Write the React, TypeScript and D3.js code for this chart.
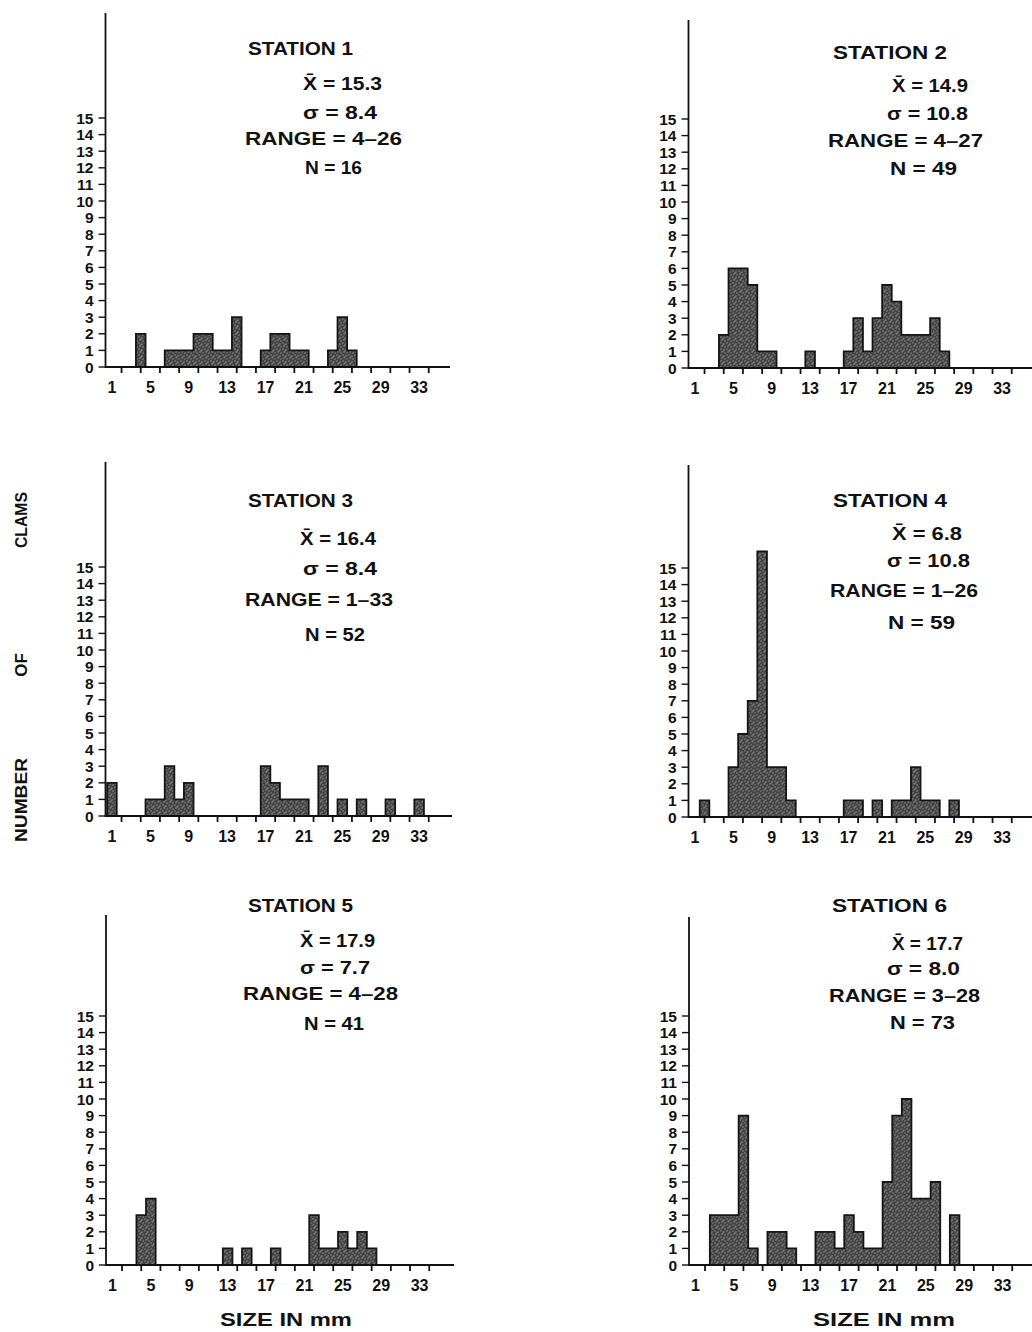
import React from 'react';
import * as d3 from 'd3';

// ---------- DATA ----------
const sizes = [1,2,3,4,5,6,7,8,9,10,11,12,13,14,15,16,17,18,19,20,21,22,23,24,25,26,27,28,29,30,31,32,33,34];
const station1 = [0,0,0,2,0,0,1,1,1,2,2,1,1,3,0,0,1,2,2,1,1,0,0,1,3,1,0,0,0,0,0,0,0,0];
const station2 = [0,0,0,2,6,6,5,1,1,0,0,0,1,0,0,0,1,3,1,3,5,4,2,2,2,3,1,0,0,0,0,0,0,0];
const station3 = [2,0,0,0,1,1,3,1,2,0,0,0,0,0,0,0,3,2,1,1,1,0,3,0,1,0,1,0,0,1,0,0,1,0];
const station4 = [0,1,0,0,3,5,7,16,3,3,1,0,0,0,0,0,1,1,0,1,0,1,1,3,1,1,0,1,0,0,0,0,0,0];
const station5 = [0,0,0,3,4,0,0,0,0,0,0,0,1,0,1,0,0,1,0,0,0,3,1,1,2,1,2,1,0,0,0,0,0,0];
const station6 = [0,0,3,3,3,9,1,0,2,2,1,0,0,2,2,1,3,2,1,1,5,9,10,4,4,5,0,3,0,0,0,0,0,0];

const stationNames = ['STATION 1', 'STATION 2', 'STATION 3', 'STATION 4', 'STATION 5', 'STATION 6'];
const means = ['15.3', '14.9', '16.4', '6.8', '17.9', '17.7'];
const sigmas = ['8.4', '10.8', '8.4', '10.8', '7.7', '8.0'];
const ranges = ['4-26', '4-27', '1-33', '1-26', '4-28', '3-28'];
const ns = ['16', '49', '52', '59', '41', '73'];

const xTickValues = [2,4,6,8,10,12,14,16,18,20,22,24,26,28,30,32,34];
const xLabelValues = [1,5,9,13,17,21,25,29,33];
const yTickValues = [0,1,2,3,4,5,6,7,8,9,10,11,12,13,14,15];

const allCounts = [station1, station2, station3, station4, station5, station6];

// ---------- LAYOUT ----------
// text lines: [xStart, yCenter, width]
const layouts = [
  { axisX: 105.5, base: 367, top: 13, end: 450,
    lines: [[248, 48, 105], [303, 83, 79], [303, 112, 74], [245, 138, 157], [305, 167, 57]] },
  { axisX: 688.5, base: 368, top: 20, end: 1034,
    lines: [[833, 52, 114], [892, 85, 76], [887, 113, 81], [828, 140, 155], [890, 168, 67]] },
  { axisX: 105.5, base: 816, top: 462, end: 452,
    lines: [[248, 500, 105], [300, 538, 76], [303, 568, 74], [245, 599, 148], [305, 634, 60]] },
  { axisX: 688.5, base: 817, top: 465, end: 1034,
    lines: [[833, 500, 114], [892, 533, 70], [887, 560, 83], [830, 590, 148], [888, 622, 67]] },
  { axisX: 106, base: 1265, top: 915, end: 454,
    lines: [[248, 905, 105], [300, 940, 75], [300, 967, 70], [243, 993, 155], [304, 1023, 60]] },
  { axisX: 689, base: 1265, top: 917, end: 1034,
    lines: [[832, 905, 115], [892, 943, 71], [887, 968, 73], [829, 995, 151], [890, 1022, 65]] },
];

const FONT = "'Liberation Sans', Arial, sans-serif";
const UNIT_Y = 16.6;
const UNIT_X = 9.6;

function histPath(counts: number[], x: (v: number) => number, y: (v: number) => number) {
  const line = d3.line<[number, number]>().x(p => x(p[0])).y(p => y(p[1])).curve(d3.curveStepAfter);
  let d = '';
  let i = 0;
  const n = counts.length;
  while (i < n) {
    if (counts[i] === 0) { i++; continue; }
    let j = i;
    while (j < n && counts[j] > 0) j++;
    const pts: [number, number][] = [[sizes[i] - 0.5, 0]];
    for (let k = i; k < j; k++) pts.push([sizes[k] - 0.5, counts[k]]);
    pts.push([sizes[j - 1] + 0.5, 0]);
    d += (line(pts) || '') + 'Z';
    i = j;
  }
  return d;
}

function Panel({ idx }: { idx: number }) {
  const L = layouts[idx];
  const counts = allCounts[idx];
  const x0 = 0.33;
  const x = d3.scaleLinear().domain([x0, x0 + (L.end - L.axisX) / UNIT_X]).range([L.axisX, L.end]);
  const y = d3.scaleLinear().domain([0, 15]).range([L.base, L.base - 15 * UNIT_Y]);
  const texts = [
    stationNames[idx],
    'X\u0304 = ' + means[idx],
    '\u03C3 = ' + sigmas[idx],
    'RANGE = ' + ranges[idx].replace('-', '\u2013'),
    'N = ' + ns[idx],
  ];
  return (
    <g>
      <path d={histPath(counts, x, y)} fill="url(#stipple)" stroke="#151515" strokeWidth={1.8} strokeLinejoin="miter" />
      {/* y axis */}
      <line x1={L.axisX} x2={L.axisX} y1={L.top} y2={L.base + 1} stroke="#111" strokeWidth={1.8} />
      {/* x axis */}
      <line x1={L.axisX} x2={L.end} y1={L.base} y2={L.base} stroke="#111" strokeWidth={1.8} />
      {yTickValues.map(v => (
        <g key={'yt' + v}>
          <line x1={L.axisX - 7} x2={L.axisX} y1={y(v)} y2={y(v)} stroke="#111" strokeWidth={1.4} />
          <text x={L.axisX - 12} y={y(v) + 5.5} textAnchor="end" fontFamily={FONT} fontWeight="bold" fontSize={15.5} fill="#111">{v}</text>
        </g>
      ))}
      {xTickValues.map(v => (
        <line key={'xt' + v} x1={x(v)} x2={x(v)} y1={L.base} y2={L.base + 6} stroke="#111" strokeWidth={1.8} />
      ))}
      {xLabelValues.map(v => (
        <text key={'xl' + v} x={x(v)} y={L.base + 26} textAnchor="middle" fontFamily={FONT} fontWeight="bold" fontSize={16} fill="#111">{v}</text>
      ))}
      {texts.map((t, i) => (
        <text key={'t' + i} x={L.lines[i][0]} y={L.lines[i][1] + 6.5} textLength={L.lines[i][2]} lengthAdjust="spacingAndGlyphs"
          fontFamily={FONT} fontWeight="bold" fontSize={18} fill="#111">{t}</text>
      ))}
    </g>
  );
}

export default function App() {
  const dots: [number, number][] = [[0.5, 0.5], [3.5, 1.5], [1.5, 3.5], [4.5, 4.5], [2.5, 2.5]];
  return (
    <svg width={1032} height={1332} viewBox="0 0 1032 1332"
      style={{ position: 'absolute', left: 0, top: 0, background: '#fff' }}>
      <defs>
        <pattern id="stipple" width={6} height={6} patternUnits="userSpaceOnUse">
          <rect width={6} height={6} fill="#454545" />
          {dots.map((p, i) => <rect key={i} x={p[0]} y={p[1]} width={1} height={1} fill="#b5b5b5" />)}
        </pattern>
      </defs>
      <rect width={1032} height={1332} fill="#fff" />
      {[0, 1, 2, 3, 4, 5].map(i => <Panel key={i} idx={i} />)}
      {/* Y axis title */}
      <text transform="translate(27,800) rotate(-90)" textAnchor="middle" fontFamily={FONT} fontWeight="bold" fontSize={17} fill="#111" textLength={84} lengthAdjust="spacingAndGlyphs">NUMBER</text>
      <text transform="translate(27,665) rotate(-90)" textAnchor="middle" fontFamily={FONT} fontWeight="bold" fontSize={17} fill="#111">OF</text>
      <text transform="translate(27,520) rotate(-90)" textAnchor="middle" fontFamily={FONT} fontWeight="bold" fontSize={17} fill="#111" textLength={56} lengthAdjust="spacingAndGlyphs">CLAMS</text>
      {/* X axis titles */}
      <text x={220} y={1326} textLength={132} lengthAdjust="spacingAndGlyphs" fontFamily={FONT} fontWeight="bold" fontSize={18} fill="#111">SIZE  IN  mm</text>
      <text x={813} y={1326} textLength={142} lengthAdjust="spacingAndGlyphs" fontFamily={FONT} fontWeight="bold" fontSize={18} fill="#111">SIZE  IN  mm</text>
    </svg>
  );
}
